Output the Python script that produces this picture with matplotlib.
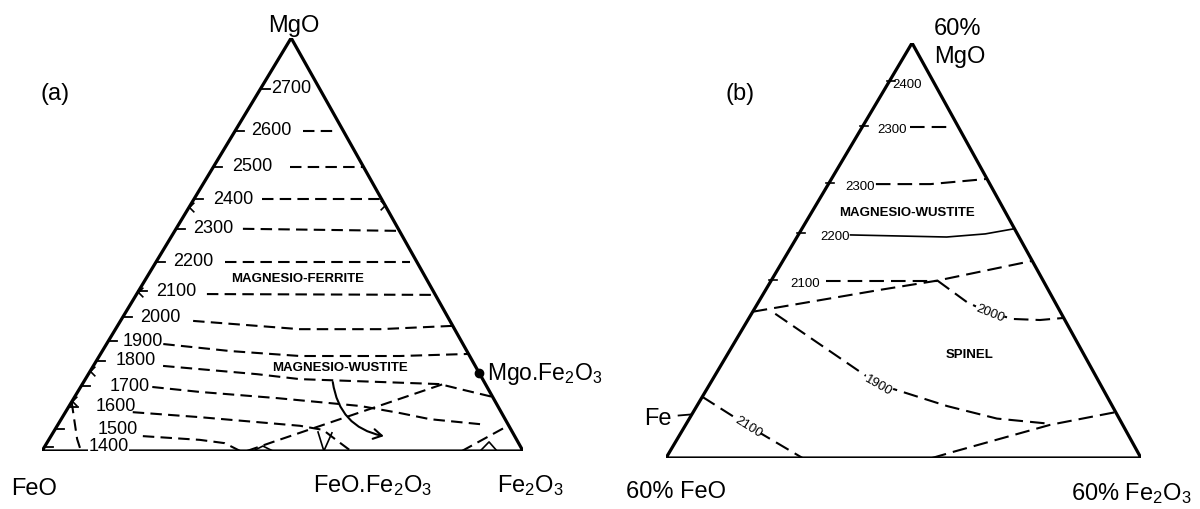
import numpy as np
import matplotlib
matplotlib.use('Agg')
import matplotlib.pyplot as plt
from matplotlib.path import Path

plt.rcParams['font.family'] = ['Liberation Sans', 'DejaVu Sans']
plt.rcParams['mathtext.fontset'] = 'custom'
plt.rcParams['mathtext.rm'] = 'Liberation Sans'
plt.rcParams['mathtext.it'] = 'Liberation Sans:italic'
plt.rcParams['mathtext.bf'] = 'Liberation Sans:bold'


# =====================
# data, compositions in wt% given as (Fe2O3, MgO)

# -----------------------
# (a) MgO - FeO - Fe2O3
a_temps = [2700, 2600, 2500, 2400, 2300, 2200, 2100, 2000, 1900, 1800, 1700, 1600, 1500, 1400]
a_label_mgo = [87.7, 77.5, 68.8, 61.0, 53.8, 45.8, 38.7, 32.4, 26.6, 21.8, 15.7, 10.7, 5.3, 1.0]
a_iso = {
    2600: [(14.2, 77.5), (20.4, 77.5)],
    2500: [(16.0, 68.8), (31.2, 68.8)],
    2400: [(14.1, 61.0), (39.0, 61.0)],
    2300: [(13.9, 53.8), (46.7, 53.3)],
    2200: [(14.3, 45.8), (52.8, 45.8)],
    2100: [(14.6, 38.0), (62.2, 37.8)],
    2000: [(15.1, 31.5), (38.3, 29.5), (55.0, 29.5), (69.7, 30.3)],
    1900: [(11.8, 25.9), (26.6, 24.2), (41.7, 23.0), (62.5, 23.0), (76.5, 23.5)],
    1800: [(14.5, 20.6), (35.1, 18.6), (44.6, 17.4), (74.3, 16.2), (79.1, 15.0), (86.9, 13.1)],
    1700: [(14.9, 15.5), (25.4, 14.3), (42.3, 12.8), (60.5, 10.9), (69.6, 9.2), (76.7, 7.7), (87.7, 6.5)],
    1600: [(14.0, 9.4), (28.5, 8.2), (50.5, 6.1), (55.8, 5.1), (59.4, 2.9), (63.9, 0.2)],
    1500: [(19.1, 3.6), (31.4, 2.7), (37.0, 1.9), (41.2, 0.0)],
}
a_spinel = [(42.6, 0.0), (46.9, 2.2), (75.0, 16.2)]
a_hematite = [(87.3, 0.0), (93.7, 6.1)]
a_wustite = [(0.0, 11.9), (2.7, 7.7), (5.8, 2.9), (8.1, 0.0)]
a_marks = [[(55.0, 4.6), (58.6, 0.0), (58.0, 4.4)],
           [(91.1, 0.0), (91.8, 2.2), (94.6, 0.0)],
           [(43.9, 0.0), (45.3, 1.2), (48.0, 0.0)]]
a_left_arrows = [59.1, 38.5, 19.4, 12.0]
a_right_arrows = [59.5]
a_mf = (81.0, 19.0)       # MgO.Fe2O3
a_arrow = [(51.8, 16.7), (69.2, 3.6)]

# -----------------------
# (b) 60% corner sub-triangle
b_temps = [2400, 2300, 2300, 2200, 2100]
b_label_mgo = [56.2, 51.9, 46.4, 41.6, 37.1]
b_iso = [
    [(24.0, 51.9), (27.6, 51.9)],
    [(24.0, 46.4), (28.6, 46.4), (33.1, 46.9)],
    [(24.6, 37.1), (34.0, 37.1)],
]
b_2200 = [(24.4, 41.5), (32.6, 41.3), (35.7, 41.6), (37.9, 42.1)]
b_2000 = [(34.0, 37.1), (37.6, 35.0), (40.0, 34.0), (42.3, 33.4), (44.6, 33.3), (46.5, 33.5)]
b_1900 = [(22.0, 33.9), (29.0, 30.0), (34.2, 27.1), (36.2, 26.5), (41.1, 25.0), (45.9, 23.8), (50.6, 23.3)]
b_2100_low = [(20.0, 25.9), (25.3, 23.1), (31.5, 20.0)]
b_spinel_up = [(20.0, 34.1), (29.6, 36.2), (34.0, 37.1), (41.0, 39.0)]
b_spinel_low = [(42.4, 20.0), (43.9, 20.6), (50.7, 23.2), (55.5, 24.4)]
b_inline = [('2000', (40.0, 34.0), -22), ('1900', (34.2, 27.1), -30), ('2100', (25.3, 23.1), -32)]
b_fe_mgo = 24.0


# =====================
# helpers
P = 0.518   # apex offset of the drawn triangles
DASH = (0, (5.5, 3.0))


def xy_a(pts):
    pts = np.asarray(pts, dtype=float)
    a = pts[:, 1] / 100.0
    return pts[:, 0] / 100.0 + P * a, a


def xy_b(pts):
    pts = np.asarray(pts, dtype=float)
    a = (pts[:, 1] - 20.0) / 40.0
    return (pts[:, 0] - 20.0) / 40.0 + P * a, a


chev_left = Path([(1.0, 1.0), (0.0, 0.0), (1.0, -1.0)], [Path.MOVETO, Path.LINETO, Path.LINETO])
chev_right = Path([(-1.0, 1.0), (0.0, 0.0), (-1.0, -1.0)], [Path.MOVETO, Path.LINETO, Path.LINETO])


def frame(ax, conv, corners):
    x, y = conv(corners + corners[:1])
    ax.plot(x, y, 'k-', lw=2.3, solid_joinstyle='miter', zorder=5)
    ax.set_xlim(0, 1)
    ax.set_ylim(0, 1)
    ax.axis('off')


fig = plt.figure(figsize=(12, 5.1), dpi=100)

# =====================
# panel (a)
ax = fig.add_axes([42 / 1200, 1 - 452 / 510, 481 / 1200, 413 / 510])
frame(ax, xy_a, [(0, 0), (100, 0), (0, 100)])
pxa, pya = 1 / 481, 1 / 413
a_label_dx = [11, 16, 19, 19, 17, 17, 18, 17, 14, 19, 29, 27, 42, 44]

for t, m, dx in zip(a_temps, a_label_mgo, a_label_dx):
    ex, ey = xy_a([(0, m)])
    ax.plot([ex[0], ex[0] + 9 * pxa], [ey[0], ey[0]], 'k-', lw=1.3)
    bb = dict(fc='white', ec='none', pad=0.3) if t == 1400 else None
    ax.text(ex[0] + dx * pxa, ey[0] + 1 * pya, str(t), fontsize=13, ha='left', va='center',
            bbox=bb, zorder=6)
    if t in a_iso:
        x, y = xy_a(a_iso[t])
        ax.plot(x, y, 'k', lw=1.5, linestyle=DASH)

for line in [a_spinel, a_hematite, a_wustite]:
    x, y = xy_a(line)
    ax.plot(x, y, 'k', lw=1.5, linestyle=DASH)
for mk in a_marks:
    x, y = xy_a(mk)
    ax.plot(x, y, 'k-', lw=1.2)

for m in a_left_arrows:
    x, y = xy_a([(0, m)])
    ax.plot(x, y, marker=chev_left, ms=7, mew=1.2, mfc='none', mec='k', ls='none', clip_on=False)
for m in a_right_arrows:
    x, y = xy_a([(100 - m, m)])
    ax.plot(x, y, marker=chev_right, ms=7, mew=1.2, mfc='none', mec='k', ls='none', clip_on=False)

x, y = xy_a([a_mf])
ax.plot(x, y, 'ko', ms=6, zorder=7, clip_on=False)
ax.text(0.925, 0.174, r'Mgo.Fe$_2$O$_3$', fontsize=16.5, ha='left', va='baseline')

x, y = xy_a(a_arrow)
ax.annotate('', xy=(x[1], y[1]), xytext=(x[0], y[0]),
            arrowprops=dict(arrowstyle='->,head_length=0.6,head_width=0.35', lw=1.5, color='k',
                            connectionstyle='arc3,rad=0.35', shrinkA=0, shrinkB=0))

ax.text(0.532, 0.419, 'MAGNESIO-FERRITE', fontsize=9.5, fontweight='bold', ha='center', va='center')
ax.text(0.62, 0.203, 'MAGNESIO-WUSTITE', fontsize=9.5, fontweight='bold', ha='center', va='center')
ax.text(0.524, 1.017, 'MgO', fontsize=17, ha='center', va='baseline')
ax.text(0.027, 0.852, '(a)', fontsize=17, ha='center', va='baseline')
ax.text(-0.0156, -0.104, 'FeO', fontsize=17, ha='center', va='baseline')
ax.text(0.688, -0.097, r'FeO.Fe$_2$O$_3$', fontsize=17, ha='center', va='baseline')
ax.text(1.015, -0.097, r'Fe$_2$O$_3$', fontsize=17, ha='center', va='baseline')

# =====================
# panel (b)
ax = fig.add_axes([666 / 1200, 1 - 459 / 510, 475 / 1200, 415 / 510])
frame(ax, xy_b, [(20, 20), (60, 20), (20, 60)])
pxb, pyb = 1 / 475, 1 / 415
b_label_dx = [4, 15, 17, 21, 19]

for t, m, dx in zip(b_temps, b_label_mgo, b_label_dx):
    ex, ey = xy_b([(20, m)])
    ax.plot([ex[0] - 2 * pxb, ex[0] + 6 * pxb], [ey[0] + 1 * pyb, ey[0] + 1 * pyb], 'k-', lw=1.2)
    ax.text(ex[0] + dx * pxb, ey[0] - 2 * pyb, str(t), fontsize=9.5, ha='left', va='center')

for line in b_iso + [b_2000, b_1900, b_2100_low, b_spinel_up, b_spinel_low]:
    x, y = xy_b(line)
    ax.plot(x, y, 'k', lw=1.5, linestyle=(0, (7.0, 3.4)))
x, y = xy_b(b_2200)
ax.plot(x, y, 'k-', lw=1.2)

for txt, pt, rot in b_inline:
    x, y = xy_b([pt])
    ax.text(x[0], y[0], txt, fontsize=9.5, ha='center', va='center', rotation=rot,
            rotation_mode='anchor', bbox=dict(fc='white', ec='none', pad=0.2), zorder=4)

ex, ey = xy_b([(20, b_fe_mgo)])
ax.plot([ex[0] - 12 * pxb, ex[0]], [ey[0] + 1 * pyb, ey[0] + 2 * pyb], 'k-', lw=1.3)
ax.text(0.0126, 0.082, 'Fe', fontsize=17, ha='right', va='baseline')

ax.text(0.507, 0.593, 'MAGNESIO-WUSTITE', fontsize=9.5, fontweight='bold', ha='center', va='center')
ax.text(0.64, 0.251, 'SPINEL', fontsize=9.5, fontweight='bold', ha='center', va='center')
ax.text(0.156, 0.865, '(b)', fontsize=17, ha='center', va='baseline')
ax.text(0.564, 1.022, '60%', fontsize=17, ha='left', va='baseline')
ax.text(0.564, 0.954, 'MgO', fontsize=17, ha='left', va='baseline')
ax.text(0.021, -0.094, '60% FeO', fontsize=17, ha='center', va='baseline')
ax.text(0.979, -0.099, r'60% Fe$_2$O$_3$', fontsize=17, ha='center', va='baseline')

fig.savefig('out.png', dpi=100)
